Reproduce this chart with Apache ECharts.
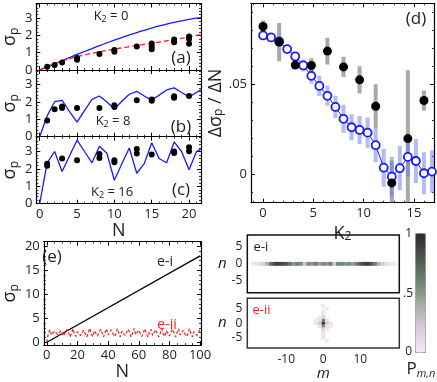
<!DOCTYPE html>
<html>
<head>
<meta charset="utf-8">
<script src="https://cdn.jsdelivr.net/npm/echarts@6.0.0/dist/echarts.min.js"></script>
<style>html,body{margin:0;padding:0;background:#fff;}#chart{width:437px;height:382px;}</style>
</head>
<body>
<div id="chart"></div>
<script>
// ================= DATA =================
const curveN = [0,1,2,3,4,5,6,7,8,9,10,11,12,13,14,15,16,17,18,19,20,21,21.6];
const aBlue  = [0,0.18,0.36,0.54,0.72,0.9,1.07,1.24,1.41,1.57,1.73,1.88,2.03,2.17,2.30,2.43,2.55,2.66,2.76,2.85,2.93,3.0,3.03];
const aRed   = [0,0.2,0.37,0.52,0.65,0.77,0.87,0.96,1.05,1.13,1.21,1.28,1.35,1.42,1.48,1.55,1.62,1.69,1.76,1.83,1.92,2.0,2.04];
const bBlue  = [0,1.2,2.02,2.1,1.45,0.84,1.5,2.15,2.35,2.0,1.6,2.05,2.45,2.62,2.35,2.1,2.4,2.7,2.82,2.55,2.3,2.55,2.7];
const cBlue  = [0,2.35,3.0,1.85,2.75,3.65,3.0,2.35,3.3,2.9,1.35,2.3,3.2,1.75,2.3,3.5,2.6,2.35,3.55,3.0,1.95,3.0,3.15];
const aDotN = [1,2,3,5,5,8,10,10,13,15,15,15,18,18,20,20,20];
const aDotV = [0.19,0.29,0.44,0.7,0.6,0.92,1.16,1.06,1.36,1.54,1.36,1.2,1.76,1.6,1.94,1.8,1.52];
const bDotN = [1,2,3,3,5,8,10,10,13,15,15,18,18,20];
const bDotV = [0.93,1.58,1.75,1.65,1.65,1.65,1.82,1.72,2.1,2.15,2.07,2.33,2.25,2.35];
const cDotN = [1,1,3,5,8,8,10,10,13,13,15,18,18,20,20];
const cDotV = [2.3,2.18,2.6,2.5,2.85,2.62,2.5,2.38,3.15,2.88,2.82,3.0,2.92,3.25,3.02];
const dKBlue   = [0,0.8,1.6,2.4,3.2,4,4.8,5.6,6.4,7.2,8,8.8,9.6,10.4,11.2,12,12.8,13.6,14.4,15.2,16,16.8];
const dBlue    = [0.0771,0.0760,0.0738,0.0695,0.0654,0.0604,0.0546,0.0490,0.0435,0.0373,0.0307,0.0260,0.0245,0.0230,0.0160,0.0035,-0.0015,0.0032,0.0095,0.0072,0.0004,0.0013];
const dBlueErr = [0.001,0.001,0.0015,0.002,0.0025,0.0033,0.0042,0.0056,0.0056,0.0061,0.0078,0.0072,0.0078,0.0084,0.0095,0.0106,0.0111,0.0123,0.0111,0.0123,0.0117,0.0117];
const dKBlack   = [0,1.6,3.2,4.8,6.4,8.0,9.6,11.2,12.8,14.4,16.0];
const dBlack    = [0.0821,0.0734,0.0606,0.0604,0.0684,0.0596,0.0524,0.0377,-0.0050,0.0197,0.0409];
const dBlackErr = [0.0033,0.0107,0.002,0.004,0.0074,0.0056,0.0076,0.0123,0.0125,0.038,0.0056];
const eiN = [0,100];
const eiV = [0,18];
const eiiV = [0,1.9,2.6,1.5,1.1,2.3,2.7,1.6,1.2,2.4,
  2.6,1.3,1.4,2.7,2.2,1.1,1.7,2.8,1.8,1.2,
  2.2,2.6,1.4,1.3,2.5,2.3,1.1,1.8,2.9,1.7,
  1.2,2.4,2.5,1.3,1.5,2.7,2.0,1.1,2.0,2.8,
  1.5,1.3,2.6,2.3,1.2,1.7,2.8,1.9,1.1,2.3,
  2.6,1.4,1.4,2.7,2.1,1.1,1.9,2.9,1.6,1.2,
  2.5,2.4,1.2,1.6,2.8,1.8,1.1,2.2,2.7,1.4,
  1.3,2.6,2.2,1.1,1.8,2.8,1.7,1.2,2.4,2.5,
  1.3,1.5,2.7,2.0,1.1,2.0,2.8,1.5,1.3,2.5,
  2.3,1.2,1.7,2.8,1.9,1.1,2.2,2.6,1.4,1.4,2.6];
const mCats = [-20,-19,-18,-17,-16,-15,-14,-13,-12,-11,-10,-9,-8,-7,-6,-5,-4,-3,-2,-1,0,1,2,3,4,5,6,7,8,9,10,11,12,13,14,15,16,17,18,19,20];
const nCats = [-8,-7,-6,-5,-4,-3,-2,-1,0,1,2,3,4,5,6,7,8];
const heatIM = [-19,-18,-17,-16,-15,-14,-13,-12,-11,-10,-9,-8,-7,-6,-5,-4,-3,-2,-1,0,1,2,3,4,5,6,7,8,9,10,11,12,13,14,15,16,17,18,19];
const heatIV = [0.03,0.06,0.1,0.2,0.4,0.7,0.85,0.9,0.85,0.8,0.65,0.5,0.6,0.55,0.25,0.55,0.5,0.6,0.45,0.55,0.5,0.6,0.25,0.55,0.6,0.5,0.55,0.45,0.6,0.75,0.85,0.9,0.8,0.6,0.35,0.2,0.1,0.05,0.03];
const heatIIM = [0,0,0,0,0,-1,1,-1,1,-1,1,0,0,-2,2,0,0,1,0,-1,1,-2,2,0,1];
const heatIIN = [0,1,-1,2,-2,0,0,1,1,-1,-1,3,-3,0,0,4,-4,5,-5,2,-2,1,-1,6,-6];
const heatIIV = [0.95,0.6,0.55,0.2,0.18,0.25,0.22,0.08,0.07,0.08,0.06,0.06,0.07,0.07,0.06,0.04,0.05,0.03,0.04,0.03,0.03,0.02,0.02,0.02,0.03];

// ================= CHART =================
const F = "'Open Sans','DejaVu Sans',sans-serif";
const TXT = '#222';
const BLUE = '#1a1aff';
const chart = echarts.init(document.getElementById('chart'), null, {renderer:'canvas'});

const grids = [
  {left:35.5, width:165.5, top:3.5,   height:66.5},
  {left:35.5, width:165.5, top:70,    height:66.7},
  {left:35.5, width:165.5, top:136.7, height:67},
  {left:251,  width:183,   top:3.3,   height:199.4},
  {left:35.7, width:165.3, top:241.5, height:110.8},
  {left:247.3,width:152,   top:235,   height:57.7, show:true, borderColor:'#111', borderWidth:1.5},
  {left:247.3,width:152,   top:298.3, height:57.7, show:true, borderColor:'#333', borderWidth:1.5}
];

const xAxes = [], yAxes = [];
const mult = k => v => (Math.abs(v/k - Math.round(v/k)) < 1e-6) ? String(Math.round(v*1e6)/1e6) : '';
function valAxis(g, pos, r, o, showLab) {
  const a = {
    type:'value', gridIndex:g, position:pos, min:r[0], max:r[1],
    axisLine:{show:true, onZero:false, lineStyle:{color:'#000', width:1.2}},
    axisTick:{show:true, inside:true, length:4, lineStyle:{color:'#000', width:1}},
    minorTick:{show:true, splitNumber:o.minor || 5, length:2, lineStyle:{color:'#000', width:0.8}},
    splitLine:{show:false}, minorSplitLine:{show:false},
    axisLabel: showLab ? {show:true, color:TXT, fontSize:13, fontFamily:F, margin:4, formatter:o.fmt} : {show:false}
  };
  if (o.interval) a.interval = o.interval; else a.splitNumber = o.split;
  if (showLab && o.name) {
    a.name = o.name; a.nameLocation = 'middle'; a.nameGap = o.nameGap;
    a.nameRotate = o.rot || 0;
    a.nameTextStyle = {fontFamily:F, color:TXT, fontSize:18, rich:o.rich};
  }
  return a;
}
function frame(g, xr, xo, yr, yo, showX, showY) {
  const xi = xAxes.length, yi = yAxes.length;
  xAxes.push(valAxis(g,'bottom',xr,xo,showX));
  xAxes.push(valAxis(g,'top',xr,xo,false));
  yAxes.push(valAxis(g,'left',yr,yo,showY));
  yAxes.push(valAxis(g,'right',yr,yo,false));
  return [xi, yi];
}
const subRich = {fontSize:12, fontFamily:F, color:TXT, verticalAlign:'bottom', lineHeight:14};
const sigRich = {a:{fontSize:18, fontFamily:F, color:TXT, lineHeight:22}, b:subRich};
const xN = {split:4, minor:5, fmt:mult(5)};
const xNc = {split:4, minor:5, fmt:mult(5), name:'N', nameGap:13, rich:{}};
const ySig = {interval:1, minor:5, fmt:mult(1), name:'{a|σ}{b|p}', nameGap:12, rot:90, rich:sigRich};
const [axA, ayA] = frame(0, [-0.45,21.6], xN, [0,3.85], ySig, false, true);
const [axB, ayB] = frame(1, [-0.45,21.6], xN, [0,3.85], ySig, false, true);
const [axC, ayC] = frame(2, [-0.45,21.6], xNc, [0,3.85], ySig, true, true);
const [axD, ayD] = frame(3, [-1.2,17.0], {split:4, minor:5, fmt:mult(5), name:'K{b|2}', nameGap:10, rich:{b:subRich}},
  [-0.016,0.095], {split:2, minor:5, fmt:v => Math.abs(v)<1e-9 ? '0' : (Math.abs(v-0.05)<1e-9 ? '.05' : ''),
    name:'Δσ{b|p} / ΔN', nameGap:18, rot:90, rich:{b:subRich}}, true, true);
const [axE, ayE] = frame(4, [-2,100.6], {split:5, minor:4, fmt:mult(20), name:'N', nameGap:11, rich:{}},
  [-0.6,21], {split:4, minor:5, fmt:mult(5), name:'{a|σ}{b|p}', nameGap:13, rot:90, rich:sigRich}, true, true);

function catX(g, showLab) {
  return {type:'category', gridIndex:g, data:mCats.map(String), axisLine:{show:false}, axisTick:{show:false}, splitLine:{show:false},
    axisLabel: showLab ? {show:true, color:TXT, fontSize:12, fontFamily:F, margin:5, interval:(i,v)=>['-10','0','10'].includes(v)} : {show:false},
    name: showLab ? 'm' : '', nameLocation:'middle', nameGap:16, nameTextStyle:{fontFamily:F, fontStyle:'italic', fontSize:15, color:TXT}};
}
function catY(g) {
  return {type:'category', gridIndex:g, data:nCats.map(String), axisLine:{show:false}, axisTick:{show:false}, splitLine:{show:false},
    axisLabel:{show:true, color:TXT, fontSize:12, fontFamily:F, margin:5, interval:(i,v)=>['-5','0','5'].includes(v)},
    name:'n', nameLocation:'middle', nameRotate:0, nameGap:18, nameTextStyle:{fontFamily:F, fontStyle:'italic', fontSize:15, color:TXT}};
}
const axHI = xAxes.length; xAxes.push(catX(5,false)); const ayHI = yAxes.length; yAxes.push(catY(5));
const axHII = xAxes.length; xAxes.push(catX(6,true)); const ayHII = yAxes.length; yAxes.push(catY(6));

const pairs = (xs, ys) => xs.map((x,i) => [x, ys[i]]);
function errBars(xi, yi, xs, vs, es, color, w) {
  return {type:'custom', xAxisIndex:xi, yAxisIndex:yi, clip:true,
    data: xs.map((x,i) => [x, vs[i]-es[i], vs[i]+es[i]]),
    renderItem:(params, api) => {
      const p1 = api.coord([api.value(0), api.value(2)]);
      const p2 = api.coord([api.value(0), api.value(1)]);
      const rect = echarts.graphic.clipRectByRect({x:p1[0]-w/2, y:p1[1], width:w, height:p2[1]-p1[1]},
        {x:params.coordSys.x, y:params.coordSys.y, width:params.coordSys.width, height:params.coordSys.height});
      return rect && {type:'rect', shape:rect, style:{fill:color}};
    }};
}
function lineS(xi, yi, data, color, width, dash, smooth) {
  return {type:'line', xAxisIndex:xi, yAxisIndex:yi, data, symbol:'none', smooth:smooth||false,
    lineStyle:{color, width, type:dash||'solid'}, z:3};
}
function dots(xi, yi, data, size) {
  return {type:'scatter', xAxisIndex:xi, yAxisIndex:yi, data, symbolSize:size, itemStyle:{color:'#000', opacity:1}, z:5};
}

const series = [
  lineS(axA, ayA, pairs(curveN, aBlue), BLUE, 1.3, 'solid', 0.3),
  lineS(axA, ayA, pairs(curveN, aRed), '#ff1a1a', 1.3, [5,3], 0.3),
  dots(axA, ayA, pairs(aDotN, aDotV), 6),
  lineS(axB, ayB, pairs(curveN, bBlue), BLUE, 1.3),
  dots(axB, ayB, pairs(bDotN, bDotV), 6),
  lineS(axC, ayC, pairs(curveN, cBlue), BLUE, 1.3),
  dots(axC, ayC, pairs(cDotN, cDotV), 6),
  errBars(axD, ayD, dKBlack, dBlack, dBlackErr, 'rgba(110,110,110,0.6)', 4),
  errBars(axD, ayD, dKBlue, dBlue, dBlueErr, 'rgba(100,120,245,0.5)', 4),
  {type:'line', xAxisIndex:axD, yAxisIndex:ayD, data:pairs(dKBlue, dBlue), symbol:'circle', symbolSize:8, showSymbol:true,
    lineStyle:{color:BLUE, width:1}, itemStyle:{color:'#fff', borderColor:BLUE, borderWidth:1.8, opacity:1}, z:4},
  dots(axD, ayD, pairs(dKBlack, dBlack), 9),
  lineS(axE, ayE, pairs(eiN, eiV), '#000', 1.3),
  lineS(axE, ayE, eiiV.map((v,i)=>[i,v]), '#ff1a1a', 1.2, [3,2]),
  {type:'heatmap', xAxisIndex:axHI, yAxisIndex:ayHI, data: heatIM.map((m,i)=>[m+20, 8, heatIV[i]])},
  {type:'heatmap', xAxisIndex:axHII, yAxisIndex:ayHII, data: heatIIM.map((m,i)=>[m+20, heatIIN[i]+8, heatIIV[i]])}
];
const heatIdx = [series.length-2, series.length-1];

function txt(x, y, text, size, color, extra) {
  return {type:'text', x, y, z:100, style:Object.assign({text, fill:color||TXT, fontSize:size, fontFamily:F,
    textAlign:'center', align:'center', textVerticalAlign:'middle', verticalAlign:'middle'}, extra||{})};
}
const kRich = {rich:{s:{fontSize:9, fontFamily:F, fill:TXT, verticalAlign:'bottom', lineHeight:10}}, lineHeight:16};
const graphic = [
  txt(111,16,'K{s|2} = 0',13,TXT,kRich),
  txt(181,58,'(a)',17),
  txt(113,121,'K{s|2} = 8',13,TXT,kRich),
  txt(181,127,'(b)',17),
  txt(112,192,'K{s|2} = 16',13,TXT,kRich),
  txt(181,190,'(c)',17),
  txt(416,19,'(d)',17),
  txt(52,257,'(e)',17),
  txt(165,262,'e-i',14),
  txt(167,325,'e-ii',14,'#ff1a1a'),
  txt(261,247,'e-i',13),
  txt(261.5,310,'e-ii',13,'#ff1a1a'),
  txt(412,234,'1',12,TXT,{textAlign:'right', align:'right'}),
  txt(413,294,'.5',12,TXT,{textAlign:'right', align:'right'}),
  txt(412,352,'0',12,TXT,{textAlign:'right', align:'right'}),
  txt(421,369,'P{s|m,n}',17,TXT,{rich:{s:{fontSize:11, fontStyle:'italic', fontFamily:F, fill:TXT, verticalAlign:'bottom', lineHeight:12}}, lineHeight:20})
];

chart.setOption({
  animation:false,
  backgroundColor:'#fff',
  textStyle:{fontFamily:F},
  grid:grids,
  xAxis:xAxes,
  yAxis:yAxes,
  visualMap:{type:'continuous', min:0, max:1, seriesIndex:heatIdx, left:415, top:233, itemWidth:10, itemHeight:119,
    calculable:false, orient:'vertical', padding:0, borderColor:'#999', borderWidth:1, text:null,
    inRange:{color:['#f5e9f3','#dccbdb','#a3ada4','#6e8171','#4b5550','#2c2733']}},
  graphic,
  series
});
</script>
</body>
</html>
